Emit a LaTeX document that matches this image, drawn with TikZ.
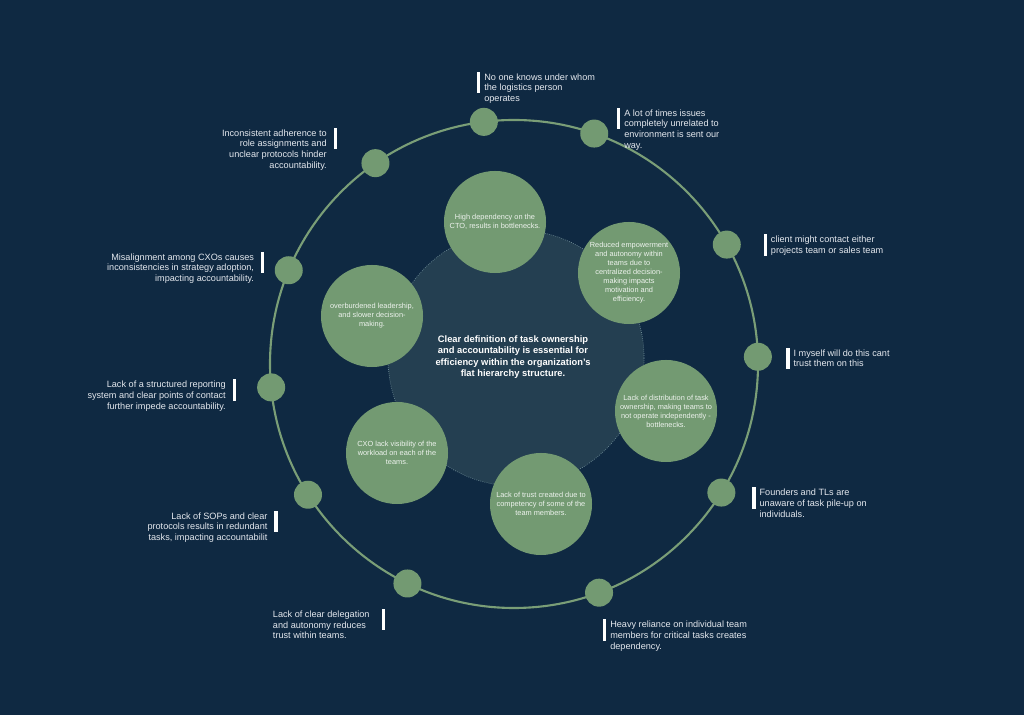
\documentclass[tikz,border=0pt]{standalone}
\usepackage{fontspec}
\setmainfont{Liberation Sans}
\usetikzlibrary{positioning,calc}
\definecolor{bgc}{HTML}{0F2942}
\definecolor{ringc}{HTML}{7A9E77}
\definecolor{leafc}{HTML}{739A72}
\definecolor{corec}{HTML}{243F51}
\definecolor{coreedge}{HTML}{6C8A96}
\definecolor{txtc}{HTML}{E4E8EE}
\definecolor{leaftxt}{HTML}{EEF3EE}
\tikzset{
  leaf/.style ={circle,fill=leafc,minimum size=2.55cm,inner sep=0pt,align=center,
                text=leaftxt,font=\fontsize{5.25}{6.4}\selectfont},
  knob/.style ={circle,fill=leafc,minimum size=.7cm,inner sep=0pt},
  core/.style ={circle,fill=corec,draw=coreedge,densely dotted,line width=.5pt,
                minimum size=6.4cm,inner sep=0pt},
  hub/.style  ={align=center,text=white,font=\fontsize{6.65}{8.1}\selectfont\bfseries},
  note/.style ={inner sep=0pt,text=txtc,font=\fontsize{6.5}{7.6}\selectfont},
  noteR/.style={note,anchor=north west,align=left},
  noteL/.style={note,anchor=north east,align=right},
}
\newcommand{\barR}[1]{\fill[white] ($(#1.north west)+(-7,1.5)$) rectangle ++(3.3,-21.5);}
\newcommand{\barL}[1]{\fill[white] ($(#1.north east)+(6.5,1.5)$) rectangle ++(3.3,-21.5);}

\begin{document}
\begin{tikzpicture}[x=0.025cm,y=0.025cm]

\useasboundingbox (0,0) rectangle (1024,715);
\fill[bgc] (0,0) rectangle (1024,715);

% ---------- ring and core ------------------------------------------------
\coordinate (c) at (514,351);
\draw[ringc,line width=1.5pt] (c) circle[radius=244];
\node[core] (core) at (516,357) {};
\node[hub] (hubt) at (513,358)
  {Clear definition of task ownership\\and accountability is essential for\\efficiency within the organization’s\\flat hierarchy structure.};

% ---------- knobs on the ring --------------------------------------------
\node[knob] (k1)  at ($(c)+(97.1:244)$)  {};
\node[knob] (k2)  at ($(c)+(70.8:244)$)  {};
\node[knob] (k3)  at ($(c)+(29.3:244)$)  {};
\node[knob] (k4)  at ($(c)+(1.7:244)$)   {};
\node[knob] (k5)  at ($(c)+(-31.8:244)$) {};
\node[knob] (k6)  at ($(c)+(-69.6:244)$) {};
\node[knob] (k7)  at ($(c)+(-115.9:244)$) {};
\node[knob] (k8)  at ($(c)+(-147.6:244)$) {};
\node[knob] (k9)  at ($(c)+(-174.5:244)$) {};
\node[knob] (k10) at ($(c)+(157.4:244)$) {};
\node[knob] (k11) at ($(c)+(124.6:244)$) {};

% ---------- causes round the core ----------------------------------------
\node[leaf] (cto)   at (495,493) {High dependency on the\\CTO, results in bottlenecks.};
\node[leaf] (empow) at (629,442) {Reduced empowerment\\and autonomy within\\teams due to\\centralized decision-\\making impacts\\motivation and\\efficiency.};
\node[leaf] (lead)  at (372,399) {overburdened leadership,\\and slower decision-\\making.};
\node[leaf] (distr) at (666,304) {Lack of distribution of task\\ownership, making teams to\\not operate independently -\\bottlenecks.};
\node[leaf] (vis)   at (397,262) {CXO lack visibility of the\\workload on each of the\\teams.};
\node[leaf] (trust) at (541,211) {Lack of trust created due to\\competency of some of the\\team members.};

% ---------- notes, right side --------------------------------------------
\node[noteR] (nlog)  at (484,641.8) {No one knows under whom\\the logistics person\\operates};
\node[noteR] (niss)  at (624,605.8) {A lot of times issues\\completely unrelated to\\environment is sent our\\way.};
\node[noteR] (ncli)  at (770.7,479.2) {client might contact either\\projects team or sales team};
\node[noteR] (nself) at (793.3,365.8) {I myself will do this cant\\trust them on this};
\node[noteR] (nfou)  at (759.3,226.2) {Founders and TLs are\\unaware of task pile-up on\\individuals.};
\node[noteR] (nrel)  at (610,94.2) {Heavy reliance on individual team\\members for critical tasks creates\\dependency.};
\barR{nlog} \barR{niss} \barR{ncli} \barR{nself} \barR{nfou} \barR{nrel}

% ---------- notes, left side ---------------------------------------------
\node[noteL] (nrole) at (327,585.8) {Inconsistent adherence to\\role assignments and\\unclear protocols hinder\\accountability.};
\node[noteL] (ncxo)  at (254.3,461.8) {Misalignment among CXOs causes\\inconsistencies in strategy adoption,\\impacting accountability.};
\node[noteL] (nrep)  at (226,334.2) {Lack of a structured reporting\\system and clear points of contact\\further impede accountability.};
\node[noteL] (nsop)  at (267.7,202.8) {Lack of SOPs and clear\\protocols results in redundant\\tasks, impacting accountabilit};
\node[noteR] (ndel)  at (272.7,104.5) {Lack of clear delegation\\and autonomy reduces\\trust within teams.};
\barL{nrole} \barL{ncxo} \barL{nrep} \barL{nsop}
\fill[white] ($(ndel.north west)+(109.3,1.5)$) rectangle ++(3.3,-21.5);

\end{tikzpicture}
\end{document}
